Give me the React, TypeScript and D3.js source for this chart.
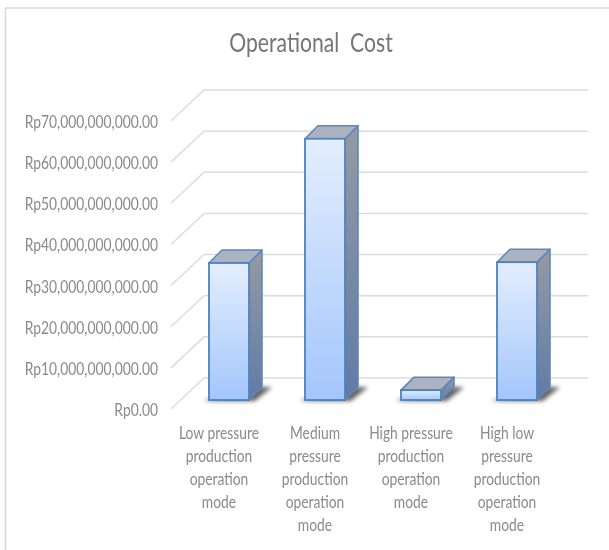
import React from 'react';
import * as d3 from 'd3';

const title = 'Operational  Cost';
const categories = ['Low', 'Medium', 'High', 'HighLow'];
const categoryLines = [
  ['Low pressure', 'production', 'operation', 'mode'],
  ['Medium', 'pressure', 'production', 'operation', 'mode'],
  ['High pressure', 'production', 'operation', 'mode'],
  ['High low', 'pressure', 'production', 'operation', 'mode'],
];
const costs = [33.3e9, 63.5e9, 2.4e9, 33.5e9];
const ticks = [0, 10e9, 20e9, 30e9, 40e9, 50e9, 60e9, 70e9];

const WIDTH = 609;
const HEIGHT = 550;
const FONT = 'Lato, "Open Sans", sans-serif';
const TEXT_SQUEEZE = 0.814;

// oblique offsets of the 3D box
const wallDx = 33;
const wallDy = -31;
const barOffsetX = 10;
const barOffsetY = -9;
const depthX = 13;
const depthY = -13;

const x = d3.scaleBand().domain(categories).range([171, 555]).paddingInner(0.583).paddingOuter(0.2915);
const y = d3.scaleLinear().domain([0, 70e9]).range([409, 121]);

const tickFormat = (v: number) => `Rp${d3.format(',.2f')(v)}`;

export default function App() {
  const [x0, x1] = x.range();
  return (
    <svg width={WIDTH} height={HEIGHT} style={{ position: 'absolute', left: 0, top: 0, background: '#fff' }}>
      <defs>
        <linearGradient id="front" x1="0" y1="0" x2="0" y2="1">
          <stop offset="0%" stopColor="#e3eeff" />
          <stop offset="100%" stopColor="#a3c6fb" />
        </linearGradient>
        <linearGradient id="side" x1="0" y1="0" x2="0" y2="1">
          <stop offset="0%" stopColor="#959aa4" />
          <stop offset="100%" stopColor="#607ba8" />
        </linearGradient>
        <filter id="soft" x="-30%" y="-30%" width="160%" height="160%">
          <feGaussianBlur stdDeviation="2" />
        </filter>
        <filter id="scan" x="0" y="0" width="100%" height="100%">
          <feGaussianBlur stdDeviation="0.35" />
        </filter>
      </defs>

      <g filter="url(#scan)">
        <rect width={WIDTH} height={HEIGHT} fill="#fff" />
        <path d={`M5.5,${HEIGHT}V8H${WIDTH}`} fill="none" stroke="#d9d9d9" strokeWidth={1.6} />

        <text
          transform={`translate(311,52) scale(${TEXT_SQUEEZE},1)`}
          textAnchor="middle"
          fontFamily={FONT}
          fontSize={26}
          fill="#757575"
          xmlSpace="preserve"
        >
          {title}
        </text>

        {ticks.map((t) => (
          <g key={t}>
            <path
              d={`M${x0},${y(t)}L${x0 + wallDx},${y(t) + wallDy}H${x1 + wallDx}`}
              fill="none"
              stroke="#dcdcdc"
              strokeWidth={1.5}
            />
            <text
              transform={`translate(158,${y(t) + 7}) scale(${TEXT_SQUEEZE},1)`}
              textAnchor="end"
              fontFamily={FONT}
              fontSize={17}
              fill="#8a8a8a"
            >
              {tickFormat(t)}
            </text>
          </g>
        ))}

        {categories.map((c, i) => {
          const left = (x(c) as number) + barOffsetX;
          const right = left + x.bandwidth();
          const base = y(0) + barOffsetY;
          const top = y(costs[i]) + barOffsetY;
          return (
            <g key={c}>
              <path
                d={`M${left - 6},${base + 1}H${right + 6}L${right + depthX + 10},${base + depthY}H${right}Z`}
                fill="#4a4a4a"
                opacity={0.85}
                filter="url(#soft)"
              />
              <path
                d={`M${right},${top}L${right + depthX},${top + depthY}V${base + depthY}L${right},${base}Z`}
                fill="url(#side)"
                stroke="#5b86c0"
                strokeWidth={1.5}
                strokeLinejoin="round"
              />
              <path
                d={`M${left},${top}L${left + depthX},${top + depthY}H${right + depthX}L${right},${top}Z`}
                fill="#abb2c0"
                stroke="#5b86c0"
                strokeWidth={1.5}
                strokeLinejoin="round"
              />
              <rect
                x={left}
                y={top}
                width={x.bandwidth()}
                height={base - top}
                fill="url(#front)"
                stroke="#4f81bd"
                strokeWidth={1.8}
              />
              {categoryLines[i].map((line, j) => (
                <text
                  key={j}
                  transform={`translate(${(x(c) as number) + x.bandwidth() / 2},${439 + j * 23}) scale(${TEXT_SQUEEZE},1)`}
                  textAnchor="middle"
                  fontFamily={FONT}
                  fontSize={17}
                  fill="#8a8a8a"
                >
                  {line}
                </text>
              ))}
            </g>
          );
        })}
      </g>
    </svg>
  );
}
